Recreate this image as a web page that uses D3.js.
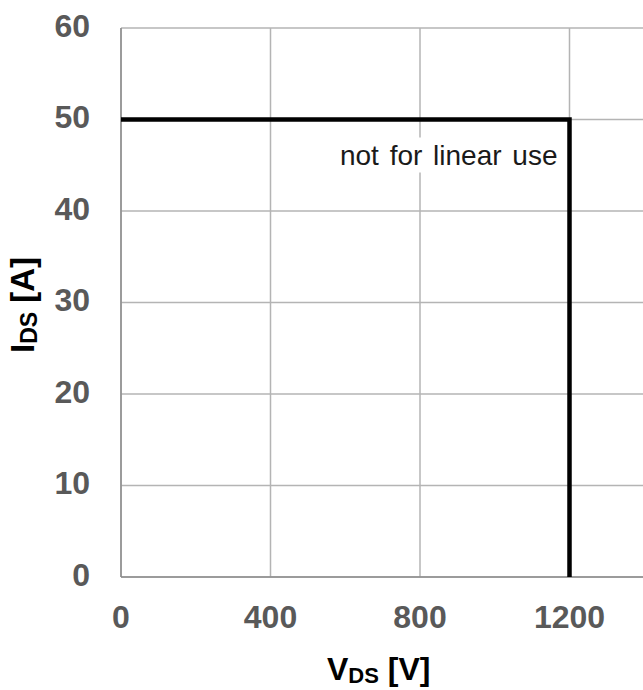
<!DOCTYPE html>
<html>
<head>
<meta charset="utf-8">
<script src="https://cdn.jsdelivr.net/npm/d3@7"></script>
<style>
  body { margin: 0; background: #fff; }
  svg { display: block; font-family: "Liberation Sans", Arial, sans-serif; }
</style>
</head>
<body>
<svg id="chart" width="643" height="690"></svg>
<script>
// SOA boundary, V_DS [V] vs I_DS [A]
var vdsLimit = [0, 1200, 1200];
var idsLimit = [50, 50, 0];
var xTicks = [0, 400, 800, 1200, 1600];
var yTicks = [0, 10, 20, 30, 40, 50, 60];
var noteText = 'not for linear use';

var svg = d3.select('#chart');
var width = +svg.attr('width'), height = +svg.attr('height');

// plot runs off the right edge of the picture
var margin = { left: 121, top: 28, bottom: 113 };

var xScale = d3.scaleLinear().domain([0, 1600]).range([margin.left, 719]);
var yScale = d3.scaleLinear().domain([0, 60]).range([height - margin.bottom, margin.top]);

var grid = svg.append('g');
grid.selectAll('line.v').data(xTicks).enter().append('line')
  .attr('x1', d => xScale(d)).attr('x2', d => xScale(d))
  .attr('y1', yScale(0)).attr('y2', yScale(60))
  .style('stroke', '#b4b4b4').style('stroke-width', 1.5);
grid.selectAll('line.h').data(yTicks).enter().append('line')
  .attr('x1', xScale(0)).attr('x2', xScale(1600))
  .attr('y1', d => yScale(d)).attr('y2', d => yScale(d))
  .style('stroke', '#b4b4b4').style('stroke-width', 1.5);

// axis lines
svg.append('line').attr('x1', xScale(0)).attr('x2', xScale(0)).attr('y1', yScale(0)).attr('y2', yScale(60))
  .style('stroke', '#8c8c8c').style('stroke-width', 1.5);
svg.append('line').attr('x1', xScale(0)).attr('x2', xScale(1600)).attr('y1', yScale(0)).attr('y2', yScale(0))
  .style('stroke', '#8c8c8c').style('stroke-width', 1.5);

// note label with white box
var note = svg.append('g');
var noteBg = note.append('rect').style('fill', '#fff');
var noteLabel = note.append('text')
  .attr('x', xScale(1200) - 12).attr('y', yScale(50) + 45)
  .attr('text-anchor', 'end')
  .style('font-size', '28px').style('fill', '#1a1a1a')
  .style('word-spacing', '3px')
  .text(noteText);
var bb = noteLabel.node().getBBox();
noteBg.attr('x', bb.x - 4).attr('y', bb.y - 2).attr('width', bb.width + 8).attr('height', bb.height + 4);

// limit line
var lineGen = d3.line().x(d => xScale(d[0])).y(d => yScale(d[1]));
svg.append('path')
  .attr('d', lineGen(vdsLimit.map((v, i) => [v, idsLimit[i]])))
  .style('stroke', '#000').style('stroke-width', 4.5).style('fill', 'none');

// tick labels
svg.append('g').selectAll('text').data(yTicks).enter().append('text')
  .attr('x', 90).attr('y', d => yScale(d) - 3)
  .attr('dy', '0.36em').attr('text-anchor', 'end')
  .style('font-size', '32px').style('font-weight', 'bold').style('fill', '#595959')
  .text(d => d);
svg.append('g').selectAll('text').data(xTicks.filter(d => d <= 1200)).enter().append('text')
  .attr('x', d => xScale(d)).attr('y', yScale(0) + 51)
  .attr('text-anchor', 'middle')
  .style('font-size', '32px').style('font-weight', 'bold').style('fill', '#595959')
  .text(d => d);

// axis titles
var xTitle = svg.append('text')
  .attr('x', 327).attr('y', 680).attr('text-anchor', 'start')
  .style('font-size', '32px').style('font-weight', 'bold').style('fill', '#000');
xTitle.append('tspan').text('V');
xTitle.append('tspan').attr('dy', 3).style('font-size', '22px').text('DS');
xTitle.append('tspan').attr('dy', -3).text(' [V]');

var yTitle = svg.append('text')
  .attr('transform', 'translate(' + 34 + ',' + 353 + ') rotate(-90)')
  .attr('text-anchor', 'start')
  .style('font-size', '33px').style('font-weight', 'bold').style('fill', '#000');
yTitle.append('tspan').text('I');
yTitle.append('tspan').attr('dy', 3).style('font-size', '23px').text('DS');
yTitle.append('tspan').attr('dy', -3).text(' [A]');
</script>
</body>
</html>
